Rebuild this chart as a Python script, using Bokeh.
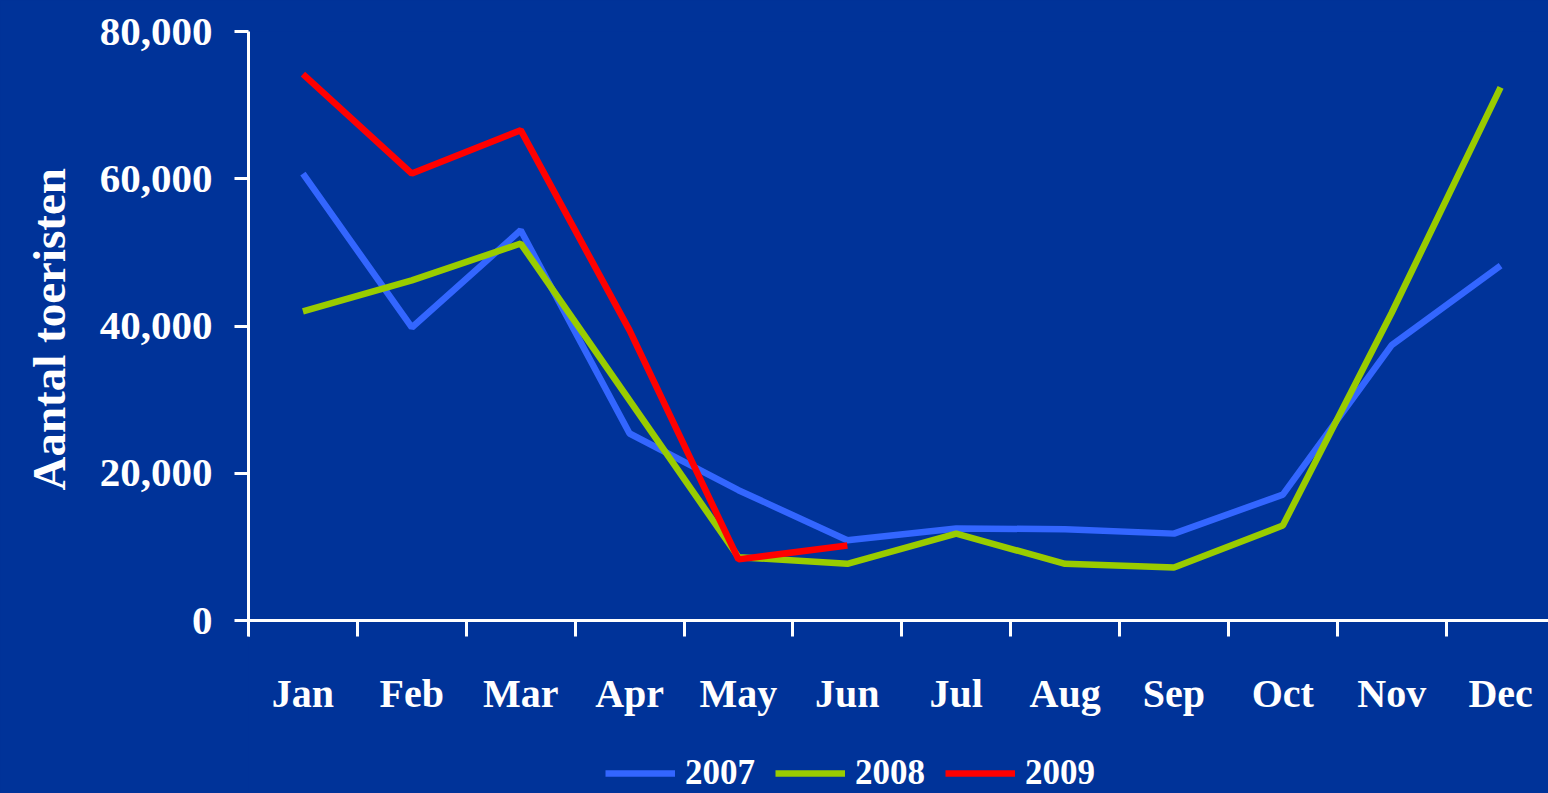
from bokeh.plotting import figure
from bokeh.models import (FixedTicker, NumeralTickFormatter, Legend, LegendItem, ColumnDataSource, Title)
from bokeh.embed import file_html
from bokeh.resources import INLINE
from jinja2 import Template

months = ["Jan", "Feb", "Mar", "Apr", "May", "Jun", "Jul", "Aug", "Sep", "Oct", "Nov", "Dec"]
y2007 = [60700, 39800, 53000, 25400, 17700, 10900, 12500, 12400, 11800, 17100, 37400, 48200]
y2008 = [42000, 46200, 51200, 29900, 8600, 7700, 11800, 7700, 7200, 12900, 41800, 72400]
y2009 = [74200, 60700, 66600, 39400, 8300, 10200]
series_names = ["2007", "2008", "2009"]
y_ticks = [0, 20000, 40000, 60000, 80000]
y_title = "Aantal toeristen"

BG = "#003399"
FONT = "Liberation Serif"

x_pos = [i + 0.5 for i in range(len(months))]

# frame spans 31..793 px; value 0 sits at 620 px (589 px per 80,000)
y_low = -173 * 80000 / 589
p = figure(width=1548, height=793, x_range=(0, 11.94), y_range=(y_low, 80000),
           output_backend="svg", toolbar_location=None,
           min_border_left=248, min_border_right=0, min_border_top=31, min_border_bottom=0)
p.background_fill_color = BG
p.border_fill_color = BG
p.outline_line_color = None
p.grid.visible = False

colors = ["#3366FF", "#99CC00", "#FF0000"]
renderers = []
for name, vals, col in zip(series_names, [y2007, y2008, y2009], colors):
    src = ColumnDataSource(dict(x=x_pos[:len(vals)], y=vals))
    r = p.line("x", "y", source=src, line_color=col, line_width=6.5)
    renderers.append(r)

# x axis: labels centred in categories, ticks on boundaries (minor ticks)
xa = p.xaxis[0]
xa.fixed_location = 0
xa.ticker = FixedTicker(ticks=x_pos, minor_ticks=list(range(len(months) + 1)))
xa.major_label_overrides = {x: m for x, m in zip(x_pos, months)}
xa.major_tick_out = 0
xa.major_tick_in = 0
xa.minor_tick_out = 16
xa.minor_tick_in = 0
xa.minor_tick_line_color = "white"
xa.minor_tick_line_width = 3
xa.axis_line_color = "white"
xa.axis_line_width = 3
xa.major_label_text_color = "white"
xa.major_label_text_font = FONT
xa.major_label_text_font_style = "bold"
xa.major_label_text_font_size = "40px"
xa.major_label_standoff = 34

ya = p.yaxis[0]
ya.bounds = (-16 * 80000 / 589, 80000)
ya.ticker = FixedTicker(ticks=y_ticks, minor_ticks=[])
ya.formatter = NumeralTickFormatter(format="0,0")
ya.major_tick_out = 14
ya.major_tick_in = 0
ya.major_tick_line_color = "white"
ya.major_tick_line_width = 3
ya.minor_tick_line_color = None
ya.axis_line_color = "white"
ya.axis_line_width = 3
ya.major_label_text_color = "white"
ya.major_label_text_font = FONT
ya.major_label_text_font_style = "bold"
ya.major_label_text_font_size = "41px"
ya.major_label_standoff = 22

# y-axis title, placed along the 0..80,000 span rather than the whole frame
p.add_layout(Title(text=y_title, align="left", vertical_align="top", offset=303, standoff=40,
                   text_color="white", text_font=FONT, text_font_style="bold",
                   text_font_size="47px"), "left")

legend = Legend(items=[LegendItem(label=n, renderers=[r]) for n, r in zip(series_names, renderers)],
                orientation="horizontal", location=(357, 0),
                glyph_width=70, glyph_height=20, label_standoff=10, spacing=20,
                padding=0, margin=0,
                label_text_color="white", label_text_font=FONT,
                label_text_font_style="bold", label_text_font_size="35px",
                background_fill_alpha=0, border_line_color=None)
p.add_layout(legend, "center")

template = Template("""{% extends base %}
{% block preamble %}<style>body { background: #003399; }</style>{% endblock %}""")

open("out.html", "w").write(file_html(p, INLINE, template=template))
